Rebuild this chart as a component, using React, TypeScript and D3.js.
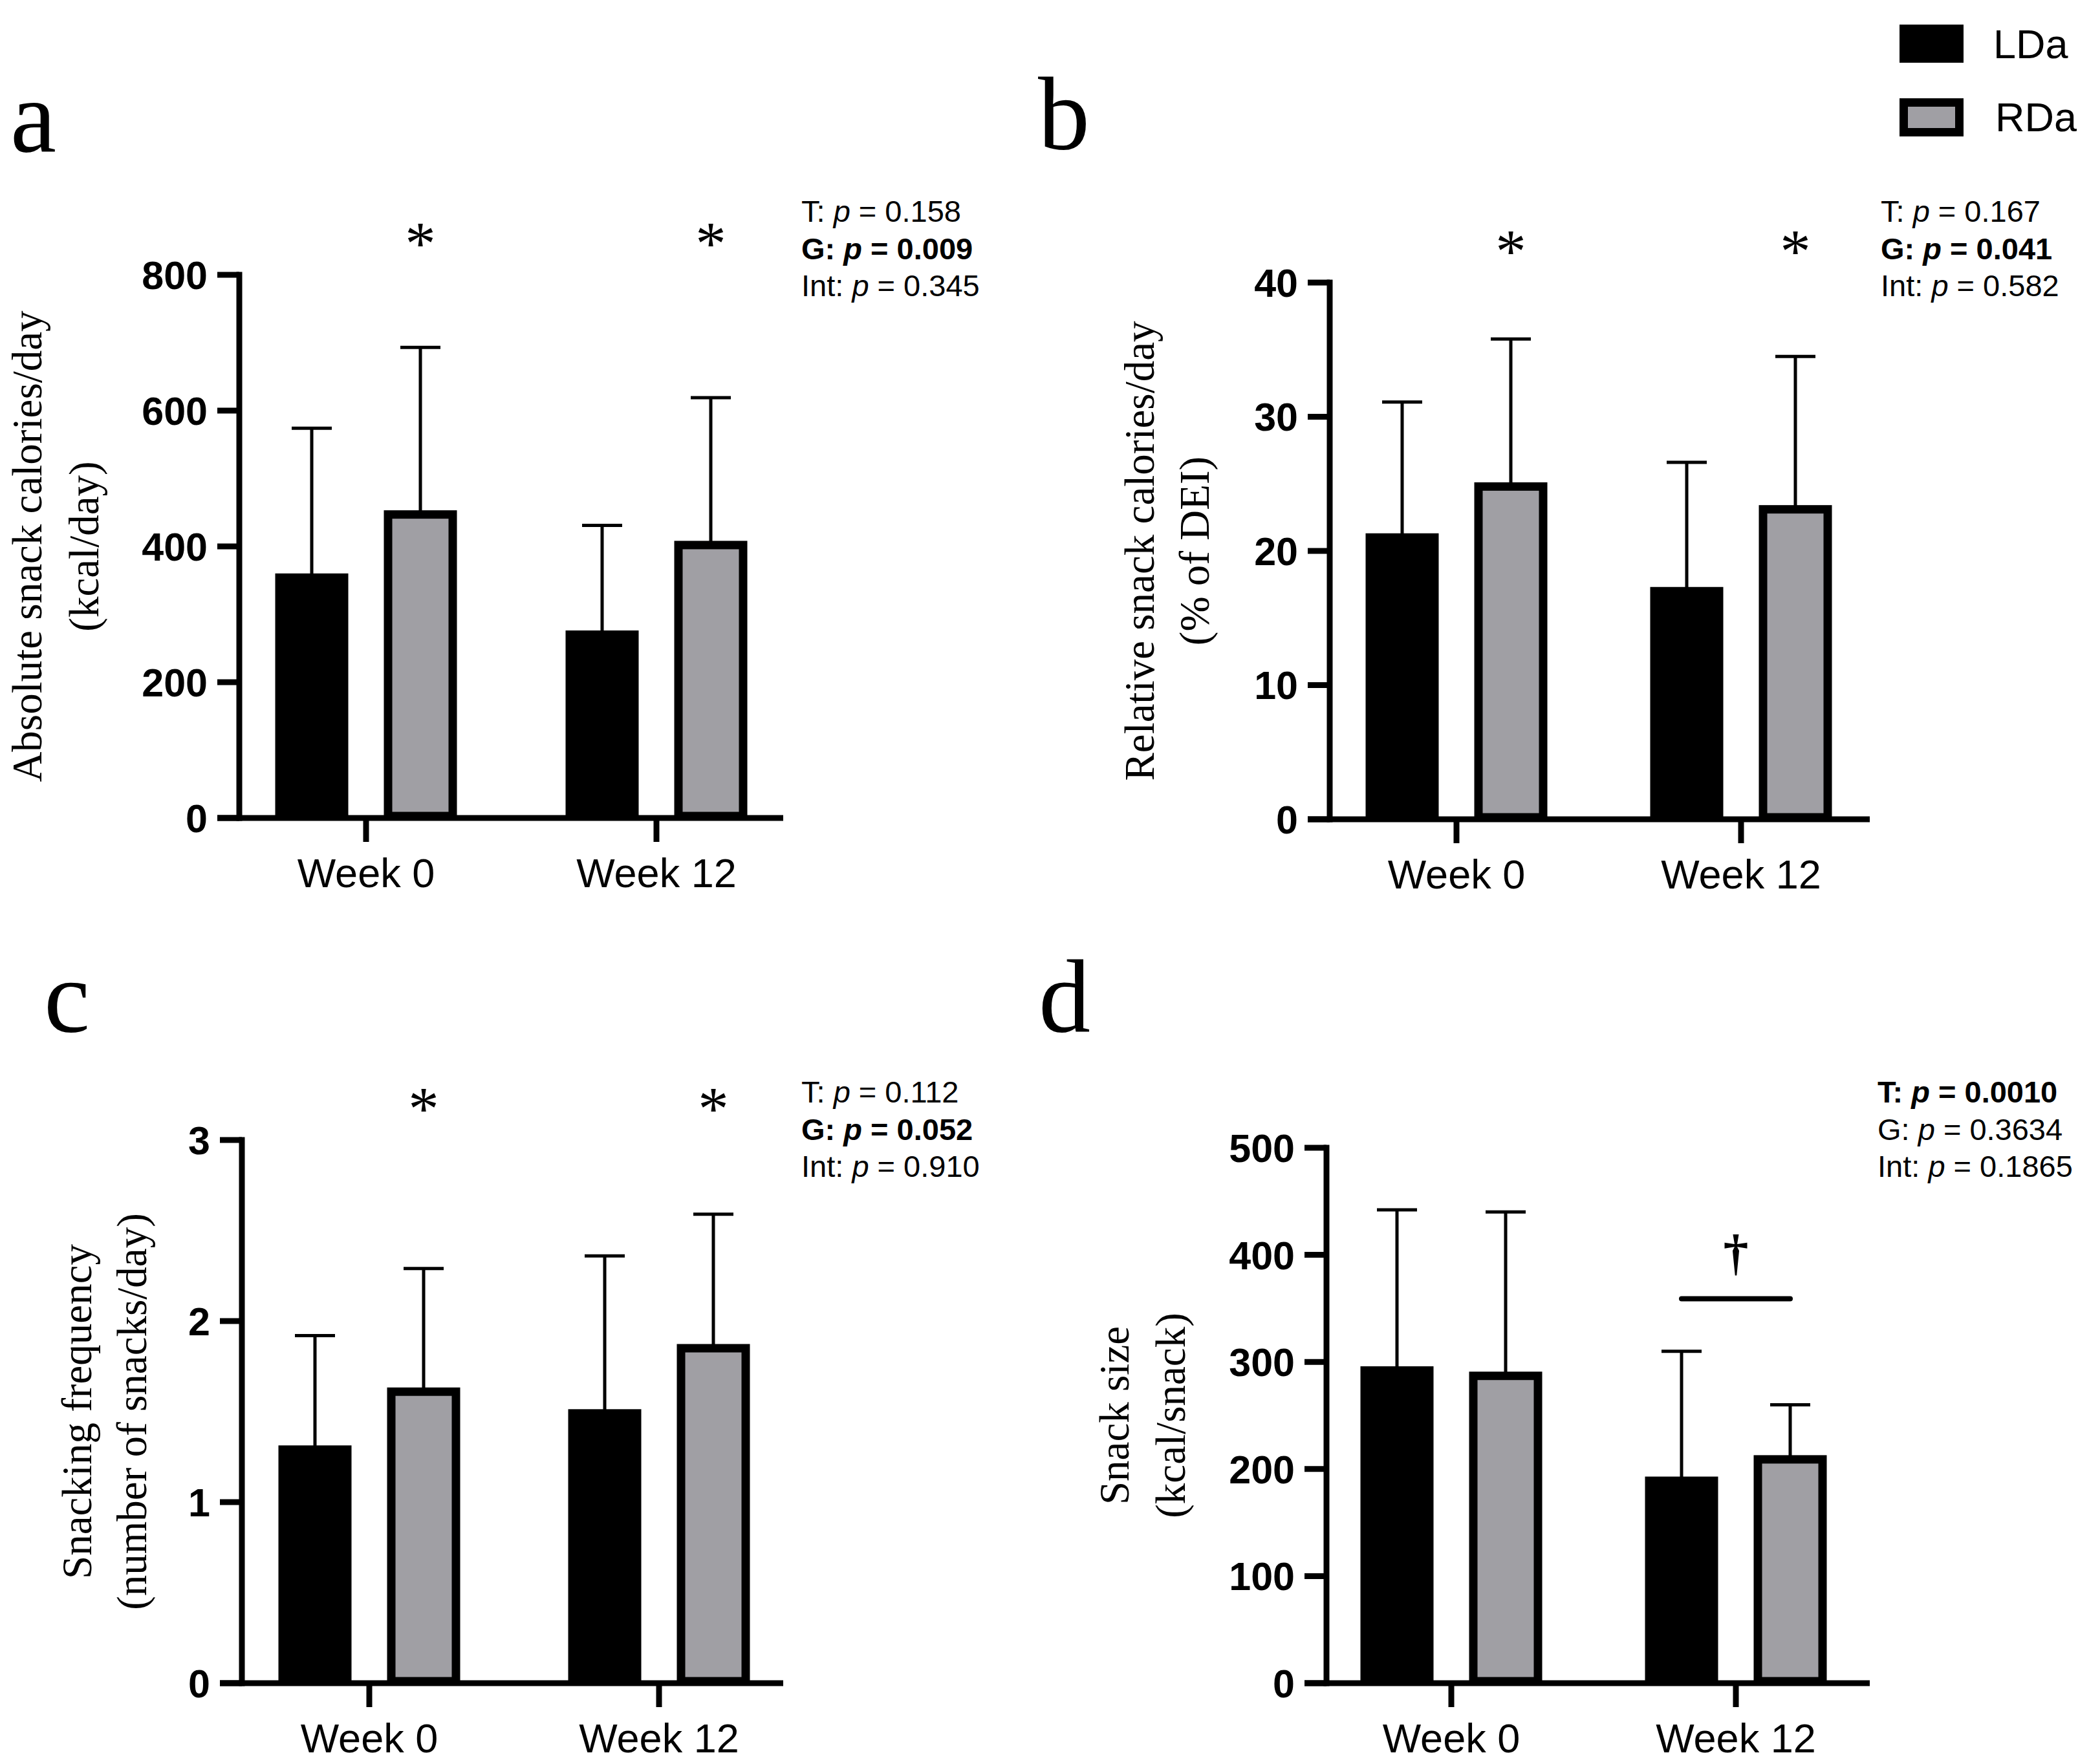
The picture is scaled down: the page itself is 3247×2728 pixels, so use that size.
import React from "react";
import * as d3 from "d3";

const weeks = ["Week 0", "Week 12"];
const groups = ["LDa", "RDa"];

// a: absolute snack calories/day
const absLDaMean = [354, 270];
const absLDaSD = [220, 161];
const absRDaMean = [447, 402];
const absRDaSD = [246, 217];
const absTicks = [0, 200, 400, 600, 800];
const absStatP = ["0.158", "0.009", "0.345"];
const absStatBold = [false, true, false];

// b: relative snack calories/day
const relLDaMean = [21.0, 17.0];
const relLDaSD = [10.1, 9.6];
const relRDaMean = [24.8, 23.1];
const relRDaSD = [11.0, 11.4];
const relTicks = [0, 10, 20, 30, 40];
const relStatP = ["0.167", "0.041", "0.582"];
const relStatBold = [false, true, false];

// c: snacking frequency
const freqLDaMean = [1.29, 1.49];
const freqLDaSD = [0.63, 0.87];
const freqRDaMean = [1.61, 1.85];
const freqRDaSD = [0.68, 0.74];
const freqTicks = [0, 1, 2, 3];
const freqStatP = ["0.112", "0.052", "0.910"];
const freqStatBold = [false, true, false];

// d: snack size
const sizeLDaMean = [292, 189];
const sizeLDaSD = [150, 121];
const sizeRDaMean = [287, 209];
const sizeRDaSD = [153, 51];
const sizeTicks = [0, 100, 200, 300, 400, 500];
const sizeStatP = ["0.0010", "0.3634", "0.1865"];
const sizeStatBold = [true, false, false];
const sizeDaggerWeek = "Week 12";
const sizeDaggerLevel = 359;

const statLabels = ["T:", "G:", "Int:"];
const starWeeksABC = ["Week 0", "Week 12"];

const GRAY = "#a09fa4";
const SANS = "'Liberation Sans', Arial, sans-serif";
const SERIF = "'Liberation Serif', 'Times New Roman', serif";

type Layout = {
  ox: number; y0: number; yTop: number; xEnd: number; t0: number; t1: number;
  statX: number; statY: number; title1X: number; title2X: number;
  letter: string; letterX: number; letterY: number;
};

function Panel(props: {
  layout: Layout; ldaMean: number[]; ldaSD: number[]; rdaMean: number[]; rdaSD: number[];
  ticks: number[]; title: string[]; statP: string[]; statBold: boolean[];
  stars: string[]; dagger?: { week: string; level: number };
}) {
  const { layout: L, ldaMean, ldaSD, rdaMean, rdaSD, ticks, title, statP, statBold, stars, dagger } = props;
  const y = d3.scaleLinear().domain([0, ticks[ticks.length - 1]]).range([L.y0, L.yTop]);
  const x = d3.scalePoint<string>().domain(weeks).range([L.t0, L.t1]);
  const g = d3.scalePoint<string>().domain(groups).range([-84, 84]);
  const barW = 100;
  const cy = (L.y0 + L.yTop) / 2;
  const series = [
    { grp: "LDa", mean: ldaMean, sd: ldaSD, fill: "#000" },
    { grp: "RDa", mean: rdaMean, sd: rdaSD, fill: GRAY },
  ];
  return (
    <g>
      <text x={L.letterX} y={L.letterY} fontFamily={SERIF} fontSize={160}>{L.letter}</text>
      {/* y title */}
      <text transform={`translate(${L.title1X},${cy}) rotate(-90)`} textAnchor="middle" fontFamily={SERIF} fontSize={65}>{title[0]}</text>
      <text transform={`translate(${L.title2X},${cy}) rotate(-90)`} textAnchor="middle" fontFamily={SERIF} fontSize={65}>{title[1]}</text>
      {/* error bars */}
      {series.map((s) =>
        weeks.map((w, i) => {
          const cx = (x(w) as number) + (g(s.grp) as number);
          const top = y(s.mean[i] + s.sd[i]);
          return (
            <g key={s.grp + w}>
              <line x1={cx} x2={cx} y1={y(s.mean[i])} y2={top} stroke="#000" strokeWidth={5} />
              <line x1={cx - 31} x2={cx + 31} y1={top} y2={top} stroke="#000" strokeWidth={5} />
            </g>
          );
        })
      )}
      {/* bars */}
      {series.map((s) =>
        weeks.map((w, i) => {
          const cx = (x(w) as number) + (g(s.grp) as number);
          const yt = y(s.mean[i]);
          return (
            <rect key={"b" + s.grp + w} x={cx - barW / 2} y={yt} width={barW} height={L.y0 - 3 - yt}
              fill={s.fill} stroke="#000" strokeWidth={13} />
          );
        })
      )}
      {/* y axis */}
      <line x1={L.ox} x2={L.ox} y1={L.yTop - 4.5} y2={L.y0 + 4.5} stroke="#000" strokeWidth={9} />
      {ticks.map((t) => (
        <g key={"t" + t}>
          <line x1={L.ox - 34} x2={L.ox} y1={y(t)} y2={y(t)} stroke="#000" strokeWidth={9} />
          <text x={L.ox - 49} y={y(t)} dy="0.36em" textAnchor="end" fontFamily={SANS} fontWeight="bold" fontSize={61}>{t}</text>
        </g>
      ))}
      {/* x axis */}
      <line x1={L.ox - 34} x2={L.xEnd} y1={L.y0} y2={L.y0} stroke="#000" strokeWidth={9} />
      {weeks.map((w) => (
        <g key={"x" + w}>
          <line x1={x(w)} x2={x(w)} y1={L.y0} y2={L.y0 + 37} stroke="#000" strokeWidth={9} />
          <text x={x(w)} y={L.y0 + 107} textAnchor="middle" fontFamily={SANS} fontSize={63}>{w}</text>
        </g>
      ))}
      {/* asterisks */}
      {stars.map((w) => (
        <text key={"s" + w} x={(x(w) as number) + (g("RDa") as number)} y={L.yTop - 16} textAnchor="middle" fontFamily={SERIF} fontSize={95}>*</text>
      ))}
      {dagger && (
        <g>
          <line x1={(x(dagger.week) as number) + (g("LDa") as number)} x2={(x(dagger.week) as number) + (g("RDa") as number)}
            y1={y(dagger.level)} y2={y(dagger.level)} stroke="#000" strokeWidth={8} strokeLinecap="round" />
          <text x={x(dagger.week)} y={y(dagger.level) - 45} textAnchor="middle" fontFamily={SERIF} fontWeight="bold" fontSize={78}>†</text>
        </g>
      )}
      {/* stats */}
      {statLabels.map((lab, i) => (
        <text key={"p" + lab} x={L.statX} y={L.statY + i * 57.5} fontFamily={SANS} fontSize={47}
          fontWeight={statBold[i] ? "bold" : "normal"}>
          {lab + " "}<tspan fontStyle="italic">p</tspan>{" = " + statP[i]}
        </text>
      ))}
    </g>
  );
}

const layoutA: Layout = { ox: 370, y0: 1265, yTop: 425, xEnd: 1211, t0: 566, t1: 1015, statX: 1239, statY: 343, title1X: 64, title2X: 152, letter: "a", letterX: 16, letterY: 234 };
const layoutB: Layout = { ox: 2056, y0: 1267, yTop: 437, xEnd: 2891, t0: 2252, t1: 2692, statX: 2908, statY: 343, title1X: 1784, title2X: 1869, letter: "b", letterX: 1605, letterY: 230 };
const layoutC: Layout = { ox: 374, y0: 2603, yTop: 1763, xEnd: 1211, t0: 571, t1: 1019, statX: 1239, statY: 1705, title1X: 141, title2X: 226, letter: "c", letterX: 68, letterY: 1595 };
const layoutD: Layout = { ox: 2051, y0: 2603, yTop: 1775, xEnd: 2891, t0: 2244, t1: 2684, statX: 2903, statY: 1705, title1X: 1745, title2X: 1832, letter: "d", letterX: 1606, letterY: 1595 };

export default function App() {
  return (
    <svg width={3247} height={2728} style={{ position: "absolute", left: 0, top: 0, background: "#fff" }}>
      <rect x={0} y={0} width={3247} height={2728} fill="#fff" />
      <Panel layout={layoutA} ldaMean={absLDaMean} ldaSD={absLDaSD} rdaMean={absRDaMean} rdaSD={absRDaSD}
        ticks={absTicks} title={["Absolute snack calories/day", "(kcal/day)"]} statP={absStatP} statBold={absStatBold} stars={starWeeksABC} />
      <Panel layout={layoutB} ldaMean={relLDaMean} ldaSD={relLDaSD} rdaMean={relRDaMean} rdaSD={relRDaSD}
        ticks={relTicks} title={["Relative snack calories/day", "(% of DEI)"]} statP={relStatP} statBold={relStatBold} stars={starWeeksABC} />
      <Panel layout={layoutC} ldaMean={freqLDaMean} ldaSD={freqLDaSD} rdaMean={freqRDaMean} rdaSD={freqRDaSD}
        ticks={freqTicks} title={["Snacking frequency", "(number of snacks/day)"]} statP={freqStatP} statBold={freqStatBold} stars={starWeeksABC} />
      <Panel layout={layoutD} ldaMean={sizeLDaMean} ldaSD={sizeLDaSD} rdaMean={sizeRDaMean} rdaSD={sizeRDaSD}
        ticks={sizeTicks} title={["Snack size", "(kcal/snack)"]} statP={sizeStatP} statBold={sizeStatBold} stars={[]}
        dagger={{ week: sizeDaggerWeek, level: sizeDaggerLevel }} />
      {/* legend */}
      {groups.map((grp, i) => (
        <g key={"leg" + grp}>
          <rect x={2943.5} y={44.5 + i * 114} width={86} height={46} fill={i === 0 ? "#000" : GRAY} stroke="#000" strokeWidth={13} />
          <text x={3082 + i * 3} y={90 + i * 113} fontFamily={SANS} fontSize={63}>{grp}</text>
        </g>
      ))}
    </svg>
  );
}
